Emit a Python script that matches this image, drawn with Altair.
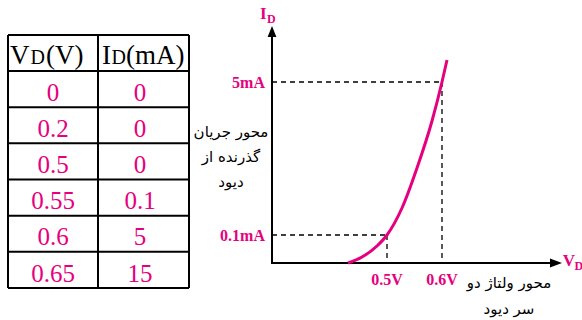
import altair as alt
import pandas as pd

MAGENTA = "#E6007E"
SERIF = "Liberation Serif"
ARABIC = "DejaVu Sans"

# Table of measured diode values
vd_values = ["0", "0.2", "0.5", "0.55", "0.6", "0.65"]
id_values = ["0", "0", "0", "0.1", "5", "15"]

# Sketched I-V curve in schematic graph units (origin where the axes cross)
curve_v = [76, 90, 105, 115, 130, 145, 160, 170, 175]
curve_i = [0, 6, 17, 28, 55, 95, 142, 181, 203]

# Marked points on the sketch
tick_v_labels = ["0.5V", "0.6V"]
tick_v_at = [115, 170]
tick_i_labels = ["0.1mA", "5mA"]
tick_i_at = [28, 181]

current_axis_note = ["محور جریان", "گذرنده از", "دیود"]
voltage_axis_note = ["محور ولتاژ دو", "سر دیود"]

W, H = 582, 320
xs = alt.Scale(domain=[-272, 310], nice=False, zero=False)
ys = alt.Scale(domain=[-57, 263], nice=False, zero=False)


def enc(x="x", y="y", x2=None, y2=None, text=None):
    e = dict(
        x=alt.X(x, type="quantitative", scale=xs, axis=None),
        y=alt.Y(y, type="quantitative", scale=ys, axis=None),
    )
    if x2:
        e["x2"] = alt.X2(x2)
    if y2:
        e["y2"] = alt.Y2(y2)
    if text:
        e["text"] = alt.Text(text)
    return e


# ---- table ----
t_left, t_mid, t_right = -264, -174, -83
t_top, head_h = 228, 36
n_rows = len(vd_values)
t_bottom = -25
row_h = (t_top - head_h - t_bottom) / n_rows
row_lines = [t_top, t_top - head_h] + [t_top - head_h - row_h * (k + 1) for k in range(n_rows)]

hlines = pd.DataFrame({"x": t_left, "x2": t_right, "y": row_lines})
vlines = pd.DataFrame({"x": [t_left, t_mid, t_right], "y": t_top, "y2": t_bottom})

grid_h = alt.Chart(hlines).mark_rule(color="black", strokeWidth=2).encode(**enc(x2="x2"))
grid_v = alt.Chart(vlines).mark_rule(color="black", strokeWidth=2).encode(**enc(y2="y2"))

cells = []
for k, (v, i) in enumerate(zip(vd_values, id_values)):
    base = t_top - head_h - row_h * (k + 1) + 6.5
    cells.append({"x": -219, "y": base, "t": v})
    cells.append({"x": -132, "y": base, "t": i})
cell_text = alt.Chart(pd.DataFrame(cells)).mark_text(
    font=SERIF, fontSize=25, color=MAGENTA, align="center", baseline="alphabetic"
).encode(**enc(text="t"))

# Column headings: large V / I, small-cap D, then the unit
head_big = pd.DataFrame({"x": [-262, -226, -170, -146], "y": 199, "t": ["V", "(V)", "I", "(mA)"]})
head_small = pd.DataFrame({"x": [-241.5, -160.5], "y": 199, "t": ["D", "D"]})
header_big = alt.Chart(head_big).mark_text(
    font=SERIF, fontSize=27, color="black", align="left", baseline="alphabetic"
).encode(**enc(text="t"))
header_small = alt.Chart(head_small).mark_text(
    font=SERIF, fontSize=20, color="black", align="left", baseline="alphabetic"
).encode(**enc(text="t"))

# ---- graph ----
axes = pd.DataFrame({"x": [0, -1], "x2": [0, 284], "y": [-1, 0], "y2": [232, 0]})
axis_lines = alt.Chart(axes).mark_rule(color="black", strokeWidth=2).encode(**enc(x2="x2", y2="y2"))

arrow_up = alt.Chart(pd.DataFrame({"x": [0], "y": [231.5]})).mark_point(
    shape="M0,-1L0.8,1L-0.8,1Z", filled=True, size=121, color="black", opacity=1, strokeWidth=0
).encode(**enc())
arrow_right = alt.Chart(pd.DataFrame({"x": [284], "y": [0]})).mark_point(
    shape="M1,0L-1,-0.75L-1,0.75Z", filled=True, size=144, color="black", opacity=1, strokeWidth=0
).encode(**enc())

guides = []
for xv, yv in zip(tick_v_at, tick_i_at):
    guides.append({"x": 0, "x2": xv, "y": yv, "y2": yv})
    guides.append({"x": xv, "x2": xv, "y": yv, "y2": 0})
guide_lines = alt.Chart(pd.DataFrame(guides)).mark_rule(
    color="black", strokeWidth=1.3, strokeDash=[5, 4]
).encode(**enc(x2="x2", y2="y2"))

curve = alt.Chart(pd.DataFrame({"x": curve_v, "y": curve_i})).mark_line(
    color=MAGENTA, strokeWidth=3, interpolate="monotone"
).encode(**enc())

v_ticks = alt.Chart(pd.DataFrame({"x": tick_v_at, "y": 0, "t": tick_v_labels})).mark_text(
    font=SERIF, fontSize=16, fontWeight="bold", color=MAGENTA, align="center",
    baseline="alphabetic", dy=22
).encode(**enc(text="t"))
i_ticks = alt.Chart(pd.DataFrame({"x": 0, "y": tick_i_at, "t": tick_i_labels})).mark_text(
    font=SERIF, fontSize=16, fontWeight="bold", color=MAGENTA, align="right",
    baseline="alphabetic", dx=-7, dy=5.5
).encode(**enc(text="t"))

sym_big = alt.Chart(pd.DataFrame({"x": [-12, 290.7], "y": [243.7, -2.7], "t": ["I", "V"]})).mark_text(
    font=SERIF, fontSize=17, fontWeight="bold", color=MAGENTA, align="left", baseline="alphabetic"
).encode(**enc(text="t"))
sym_small = alt.Chart(pd.DataFrame({"x": [-5, 302.5], "y": [240.3, -7], "t": ["D", "D"]})).mark_text(
    font=SERIF, fontSize=12, fontWeight="bold", color=MAGENTA, align="left", baseline="alphabetic"
).encode(**enc(text="t"))

notes = pd.DataFrame({
    "x": [-41] * len(current_axis_note) + [237] * len(voltage_axis_note),
    "y": [131, 106, 81, -20, -46],
    "t": current_axis_note + voltage_axis_note,
})
note_text = alt.Chart(notes).mark_text(
    font=ARABIC, fontSize=15, color="black", align="center", baseline="middle"
).encode(**enc(text="t"))

chart = alt.layer(
    grid_h, grid_v, cell_text, header_big, header_small,
    guide_lines, axis_lines, arrow_up, arrow_right, curve,
    v_ticks, i_ticks, sym_big, sym_small, note_text,
).properties(
    width=W, height=H, padding=0, autosize=alt.AutoSizeParams(type="none"), background="white"
).configure_view(strokeWidth=0)

chart.save("out.html", embed_options={"renderer": "svg", "actions": False})
